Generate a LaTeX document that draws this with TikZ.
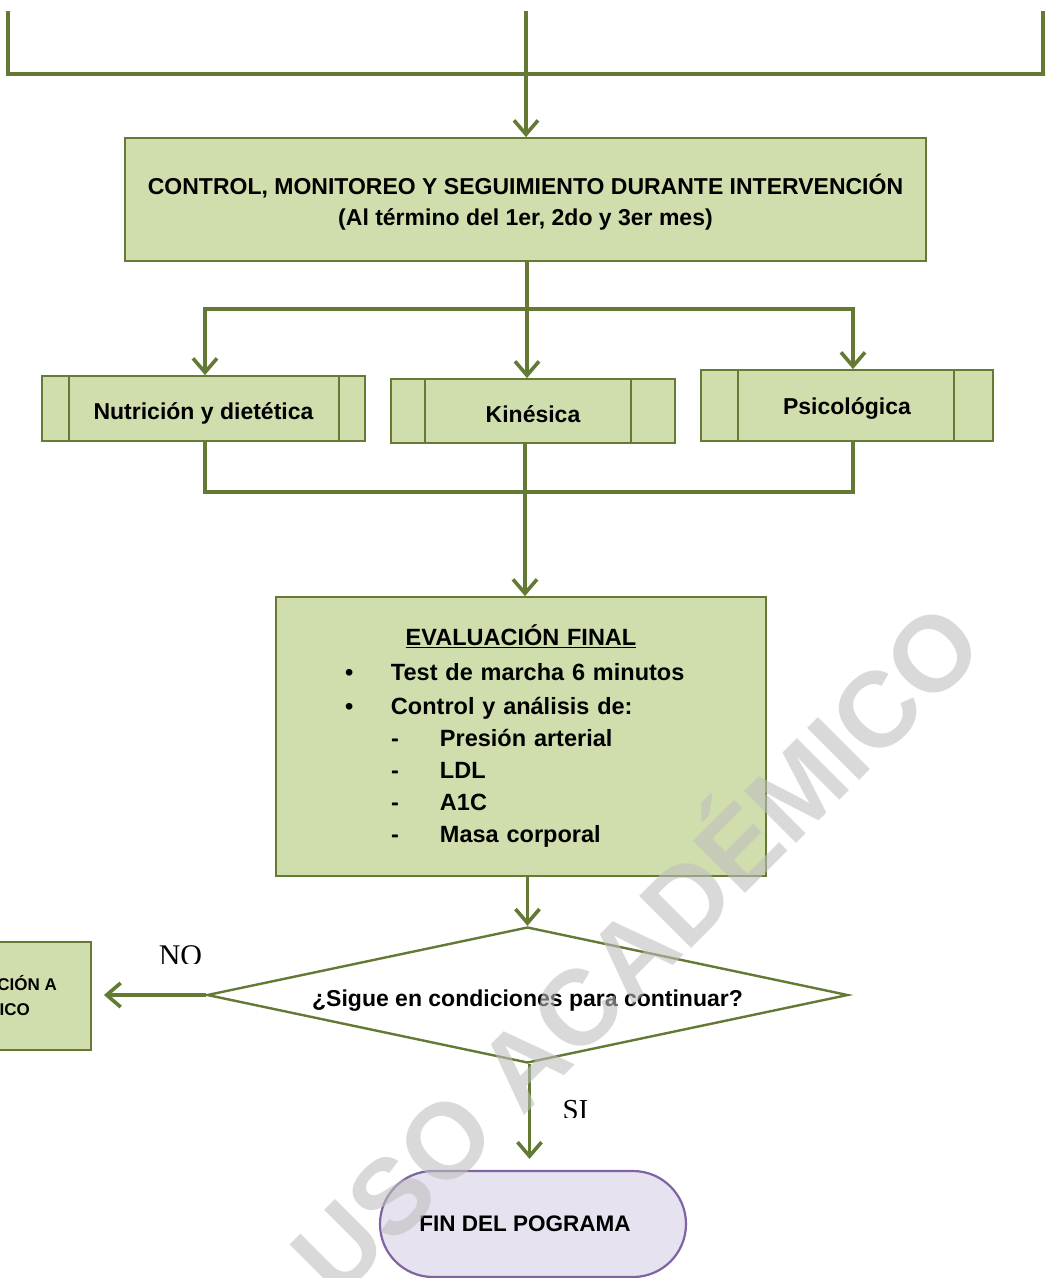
\documentclass[tikz,border=0pt]{standalone}
\usepackage{fontspec}
\setmainfont{Liberation Sans}
\newfontfamily\labelserif{Liberation Serif}
\usetikzlibrary{arrows.meta,shapes.geometric}
\definecolor{linegreen}{RGB}{99,121,52}
\definecolor{boxfill}{RGB}{208,221,172}
\definecolor{boxline}{RGB}{101,123,52}
\definecolor{endfill}{RGB}{231,226,240}
\definecolor{endline}{RGB}{128,100,162}
\definecolor{markgray}{RGB}{190,190,190}
\begin{document}
\begin{tikzpicture}[x=1pt,y=-1pt,
  conn/.style={draw=linegreen,line width=3.2pt},
  arr/.style={conn,-{Straight Barb[length=14pt,width=24pt,line width=3.6pt]}},
  box/.style={draw=boxline,fill=boxfill,line width=1.8pt,inner sep=0pt,align=center,
    font=\fontsize{23}{31}\selectfont\bfseries},
  bar/.style={draw=boxline,line width=1.8pt},
  yesno/.style={font=\labelserif\fontsize{30}{30}\selectfont,anchor=base,inner sep=0pt}]
\useasboundingbox (0,0) rectangle (1045,1278);
\clip (0,0) rectangle (1045,1278);

% incoming distribution line
\coordinate (tl) at (8,11);
\coordinate (tlb) at (8,74);
\coordinate (trb) at (1046,74);
\coordinate (tr) at (1043,11);
\coordinate (tm) at (526,11);
\draw[conn,line width=4pt] (tl) -- (tlb) -- (trb);
\draw[conn] (tr) -- (tr |- tlb);

% monitoring box
\node[box,minimum width=801pt,minimum height=123pt] (ctrl) at (525.5,199.5)
  {\rule{0pt}{25pt}CONTROL, MONITOREO Y SEGUIMIENTO DURANTE INTERVENCIÓN\\(Al término del 1er, 2do y 3er mes)};
\draw[arr] (tm) -- (tm |- ctrl.north);

% three predefined-process boxes
\node[box,minimum width=323pt,minimum height=65pt,text height=22.5pt,text depth=0pt] (nut) at (203.5,408.5) {Nutrición y dietética};
\draw[bar] ([xshift=28pt]nut.north west) -- ([xshift=28pt]nut.south west);
\draw[bar] ([xshift=-27pt]nut.north east) -- ([xshift=-27pt]nut.south east);

\node[box,minimum width=284pt,minimum height=64pt,text height=23pt,text depth=0pt] (kin) at (533,411) {Kinésica};
\draw[bar] ([xshift=35pt]kin.north west) -- ([xshift=35pt]kin.south west);
\draw[bar] ([xshift=-45pt]kin.north east) -- ([xshift=-45pt]kin.south east);

\node[box,minimum width=292pt,minimum height=71pt,text height=17pt,text depth=0pt] (psi) at (847,405.5) {Psicológica};
\draw[bar] ([xshift=38pt]psi.north west) -- ([xshift=38pt]psi.south west);
\draw[bar] ([xshift=-40pt]psi.north east) -- ([xshift=-40pt]psi.south east);

% branching
\coordinate (sl) at (205,309);
\coordinate (sm) at (527,309);
\coordinate (sr) at (853,309);
\draw[conn] (ctrl.south -| sm) -- (sm);
\draw[conn,line cap=rect] (sl) -- (sr);
\draw[arr] (sl) -- (sl |- nut.north);
\draw[arr] (sm) -- (sm |- kin.north);
\draw[arr] (sr) -- (sr |- psi.north);

% final evaluation
\node[box,minimum width=490pt,minimum height=279pt,text width=490pt,align=left,
  font=\fontsize{23.5}{32}\selectfont\bfseries] (eva) at (521,736.5)
  {{\centering\underline{EVALUACIÓN FINAL}\par}\vspace{3pt}
   \hspace*{69pt}\makebox[46pt][l]{\textbullet}Test de marcha 6 minutos\par\vspace{2pt}
   \hspace*{69pt}\makebox[46pt][l]{\textbullet}Control y análisis de:\par
   \hspace*{115pt}\makebox[49pt][l]{-}Presión arterial\par
   \hspace*{115pt}\makebox[49pt][l]{-}LDL\par
   \hspace*{115pt}\makebox[49pt][l]{-}A1C\par
   \hspace*{115pt}\makebox[49pt][l]{-}Masa corporal\par\vspace*{-4pt}};

% merging
\coordinate (ml) at (205,492);
\coordinate (mm) at (525,492);
\coordinate (mr) at (853,492);
\draw[conn] (ml |- nut.south) -- (ml) -- (mr) -- (mr |- psi.south);
\draw[arr] (kin.south -| mm) -- (mm |- eva.north);

% decision
\node[diamond,draw=linegreen,fill=white,line width=2.4pt,shape aspect=4.71,
  minimum width=641pt,minimum height=136pt,inner sep=0pt,text height=22pt,text depth=0pt,
  font=\fontsize{23}{28}\selectfont\bfseries] (dec) at (527.5,995)
  {¿Sigue en condiciones para continuar?};
\draw[arr] (eva.south -| dec.north) -- (dec.north);

% referral box at the left edge
\node[box,minimum width=260pt,minimum height=108pt] (der) at (-39,996) {};
\node[font=\fontsize{17}{17}\selectfont\bfseries,anchor=base east,inner sep=0pt] at (57,990) {CIÓN A};
\node[font=\fontsize{17}{17}\selectfont\bfseries,anchor=base east,inner sep=0pt] at (30,1015) {ICO};
\draw[arr,shorten >=12pt] (dec.west) -- (dec.west -| der.east);
\begin{scope}
  \clip (140,930) rectangle (220,963.5);
  \node[yesno] at (180.5,965) {NO};
\end{scope}

% end of programme
\node[draw=endline,fill=endfill,line width=2.2pt,rounded corners=53pt,minimum width=306pt,
  minimum height=106pt,inner sep=0pt,font=\fontsize{22.5}{28}\selectfont\bfseries] (fin) at (533,1224)
  {\kern-16pt FIN DEL POGRAMA};
\draw[arr,shorten >=11pt] ([xshift=2pt]dec.south) -- ([xshift=2pt]dec.south |- fin.north);
\begin{scope}
  \clip (550,1085) rectangle (605,1117.5);
  \node[yesno,font=\labelserif\fontsize{29}{29}\selectfont] at (575.5,1119) {SI};
\end{scope}

% watermark
\node[rotate=45,font=\fontsize{107}{107}\selectfont\bfseries,text=markgray,text opacity=0.58,inner sep=0pt]
  at (630,943) {USO ACADÉMICO};
\end{tikzpicture}
\end{document}
